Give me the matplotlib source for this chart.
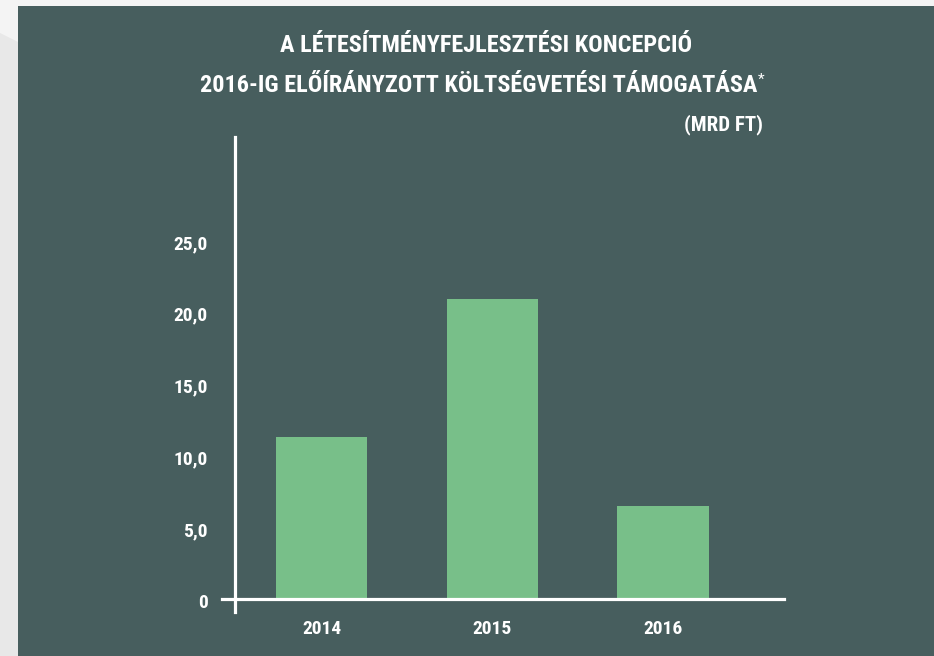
import matplotlib
matplotlib.use("Agg")
import matplotlib.pyplot as plt
from matplotlib.patches import Rectangle, Polygon
from matplotlib.transforms import ScaledTranslation

# ---- data ----
years = ["2014", "2015", "2016"]
values = [11.3, 20.9, 6.5]
yticks = [0, 5, 10, 15, 20, 25]
ytick_labels = ["0", "5,0", "10,0", "15,0", "20,0", "25,0"]
title_line1 = "A LÉTESÍTMÉNYFEJLESZTÉSI KONCEPCIÓ"
title_line2 = "2016-IG ELŐÍRÁNYZOTT KÖLTSÉGVETÉSI TÁMOGATÁSA"
unit_label = "(MRD FT)"

# ---- style ----
W, H = 934, 656
DPI = 100
PANEL = "#475e5e"
BAR = "#78bf89"
WHITE = "#ffffff"
FONT = ["Roboto Condensed", "Liberation Sans Narrow", "DejaVu Sans"]
plt.rcParams["font.family"] = FONT

fig = plt.figure(figsize=(W / DPI, H / DPI), dpi=DPI, facecolor="#f4f4f4")

def fx(px):
    return px / W

def fy(py):
    return 1 - py / H

# background pieces
fig.patches.append(Polygon([(fx(0), fy(33)), (fx(18), fy(42)), (fx(18), fy(656)), (fx(0), fy(656))],
                           closed=True, transform=fig.transFigure, facecolor="#e8e8e8",
                           edgecolor="none", zorder=-2))
fig.patches.append(Rectangle((fx(18), fy(656)), fx(934) - fx(18), fy(6) - fy(656),
                             transform=fig.transFigure, facecolor=PANEL, edgecolor="none", zorder=-1))

# axes placement in pixels
ax_l, ax_r, ax_t, ax_b = 222, 784, 137, 612
ax = fig.add_axes([fx(ax_l), fy(ax_b), fx(ax_r) - fx(ax_l), fy(ax_t) - fy(ax_b)])
ax.set_facecolor("none")

x = list(range(len(years)))
ax.bar(x, values, width=0.533, color=BAR, zorder=2)

# scale: zero at y=599 px, 14.36 px per unit; x: 0 at 321 px, 170.75 px per category
ppu = 14.36
zero_px = 599
ax.set_ylim(-(ax_b - zero_px) / ppu, (zero_px - ax_t) / ppu)
x0_px, step = 321.5, 170.75
ax.set_xlim((ax_l - x0_px) / step, (ax_r - x0_px) / step)

for s in ax.spines.values():
    s.set_visible(False)

ax.axhline(0, color=WHITE, lw=2.3, zorder=3, clip_on=False)
ax.axvline((235 - x0_px) / step, color=WHITE, lw=2.3, zorder=3, clip_on=False)

ax.set_yticks(yticks)
ax.set_yticklabels(ytick_labels)
ax.set_xticks(x)
ax.set_xticklabels(years)
ax.tick_params(axis="both", length=0, colors=WHITE, labelsize=14)
ax.tick_params(axis="y", pad=10.5)
ax.tick_params(axis="x", pad=6)
for lab in ax.get_yticklabels() + ax.get_xticklabels():
    lab.set_fontweight("bold")
off = ScaledTranslation(0, -2 / DPI, fig.dpi_scale_trans)
for lab in ax.get_yticklabels():
    lab.set_transform(lab.get_transform() + off)

# titles
fig.text(fx(486), fy(46), title_line1, color=WHITE, fontsize=17.5, fontweight="bold",
         ha="center", va="center")
t2 = fig.text(fx(757), fy(86), title_line2, color=WHITE, fontsize=17.5, fontweight="bold",
              ha="right", va="center")
fig.text(fx(758), fy(80), "*", color=WHITE, fontsize=11, ha="left", va="center")
fig.text(fx(763), fy(125), unit_label, color=WHITE, fontsize=15, fontweight="bold",
         ha="right", va="center")

fig.savefig("out.png", dpi=DPI, facecolor=fig.get_facecolor())
